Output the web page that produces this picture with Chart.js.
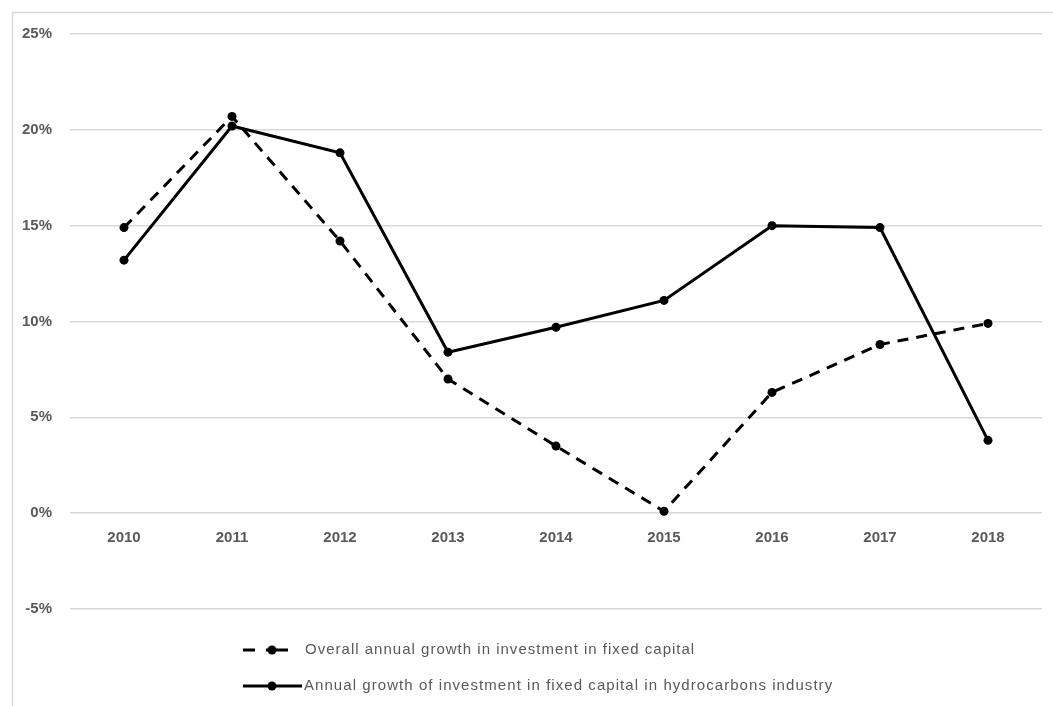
<!DOCTYPE html>
<html>
<head>
<meta charset="utf-8">
<script src="https://cdn.jsdelivr.net/npm/chart.js@4/dist/chart.umd.min.js"></script>
<style>
  html, body { margin: 0; padding: 0; background: #fff; }
  #wrap { width: 1053px; height: 706px; position: relative; }
</style>
</head>
<body>
<div id="wrap"><canvas id="growth-chart" width="1053" height="706"></canvas></div>
<script>
// values, percent
let years = ['2010', '2011', '2012', '2013', '2014', '2015', '2016', '2017', '2018'];
let overallGrowth = [14.9, 20.7, 14.2, 7.0, 3.5, 0.1, 6.3, 8.8, 9.9];
let hydrocarbonsGrowth = [13.2, 20.2, 18.8, 8.4, 9.7, 11.1, 15.0, 14.9, 3.8];
let yTicks = [-5, 0, 5, 10, 15, 20, 25];
let seriesNames = [
    'Overall annual growth in investment in fixed capital',
    'Annual growth of investment in fixed capital in hydrocarbons industry'
];

let fontFamily = "'Liberation Sans', 'DejaVu Sans', sans-serif";
let textColor = '#595959';

// light frame round the whole chart, like the spreadsheet export
let framePlugin = {
    id: 'frame',
    beforeDraw(chart) {
        let ctx = chart.ctx;
        ctx.save();
        ctx.strokeStyle = '#d9d9d9';
        ctx.lineWidth = 1.5;
        ctx.strokeRect(12.5, 12.5, 1100, 800);
        ctx.restore();
    }
};

// two-row legend under the plot
let legendPlugin = {
    id: 'bottomLegend',
    afterDraw(chart) {
        let ctx = chart.ctx;
        let rows = [
            {y: 650, segs: [[243, 255], [266, 288]], dot: 272, tx: 305, w: 390},
            {y: 686, segs: [[243, 302]], dot: 272, tx: 304, w: 529}
        ];
        ctx.save();
        rows.forEach((r, i) => {
            ctx.strokeStyle = '#000';
            ctx.lineWidth = 3;
            r.segs.forEach(s => {
                ctx.beginPath();
                ctx.moveTo(s[0], r.y);
                ctx.lineTo(s[1], r.y);
                ctx.stroke();
            });
            ctx.fillStyle = '#000';
            ctx.beginPath();
            ctx.arc(r.dot, r.y, 4.5, 0, Math.PI * 2);
            ctx.fill();
            ctx.font = '15px ' + fontFamily;
            ctx.letterSpacing = '0px';
            let text = seriesNames[i];
            let measured = ctx.measureText(text).width;
            let extra = (r.w - measured) / text.length;
            if (extra > 0) ctx.letterSpacing = extra.toFixed(2) + 'px';
            ctx.fillStyle = textColor;
            ctx.textBaseline = 'middle';
            ctx.textAlign = 'left';
            ctx.fillText(text, r.tx, r.y);
        });
        ctx.restore();
    }
};

let ctxGrowth = document.getElementById('growth-chart').getContext('2d');

let growthChart = new Chart(ctxGrowth, {
    type: 'line',
    data: {
        labels: years,
        datasets: [
            {
                label: seriesNames[0],
                data: overallGrowth,
                borderColor: '#000',
                backgroundColor: '#000',
                borderWidth: 3,
                borderDash: [11, 8],
                pointRadius: 4.5,
                pointHoverRadius: 4.5,
                pointBackgroundColor: '#000',
                pointBorderWidth: 0,
                tension: 0
            },
            {
                label: seriesNames[1],
                data: hydrocarbonsGrowth,
                borderColor: '#000',
                backgroundColor: '#000',
                borderWidth: 3,
                pointRadius: 4.5,
                pointHoverRadius: 4.5,
                pointBackgroundColor: '#000',
                pointBorderWidth: 0,
                tension: 0
            }
        ]
    },
    options: {
        responsive: false,
        animation: false,
        layout: {
            padding: {left: 12, right: 11, top: 34, bottom: 97}
        },
        plugins: {
            legend: {display: false},
            tooltip: {enabled: false}
        },
        scales: {
            x: {
                position: {y: 0},
                offset: true,
                grid: {display: false, drawTicks: false},
                border: {display: false},
                ticks: {
                    color: textColor,
                    padding: 16,
                    font: {family: fontFamily, size: 15, weight: 'bold'}
                }
            },
            y: {
                min: yTicks[0],
                max: yTicks[yTicks.length - 1],
                afterFit(scale) { scale.width = 58; },
                afterBuildTicks(scale) { scale.ticks = yTicks.map(v => ({value: v})); },
                grid: {color: '#d9d9d9', lineWidth: 1.5, drawTicks: false},
                border: {display: false},
                ticks: {
                    color: textColor,
                    padding: 18,
                    font: {family: fontFamily, size: 15, weight: 'bold'},
                    callback: v => v + '%'
                }
            }
        }
    },
    plugins: [framePlugin, legendPlugin]
});
</script>
</body>
</html>
